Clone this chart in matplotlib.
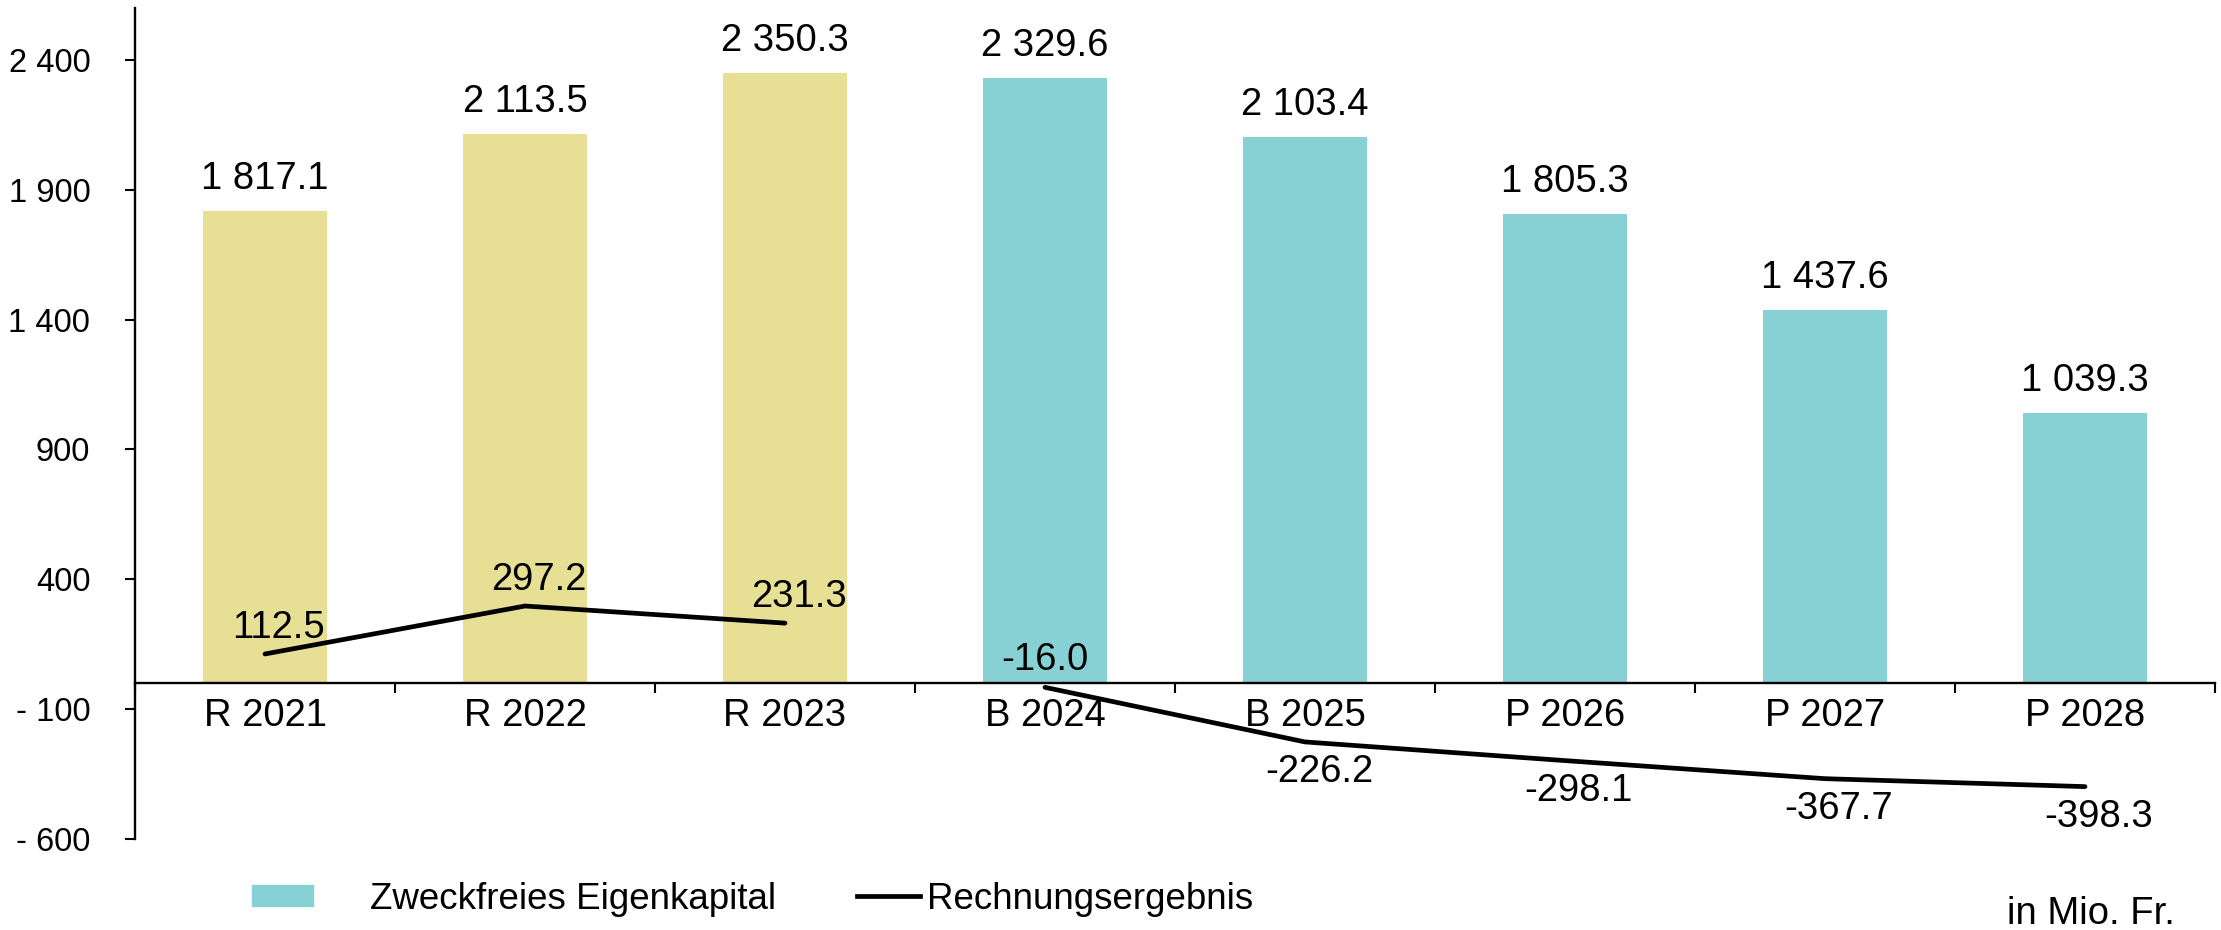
import matplotlib
matplotlib.use("Agg")
import matplotlib.pyplot as plt
from matplotlib.patches import Patch
from matplotlib.lines import Line2D

plt.rcParams['font.family'] = ['Liberation Sans', 'DejaVu Sans']

# data
categories = ["R 2021", "R 2022", "R 2023", "B 2024", "B 2025", "P 2026", "P 2027", "P 2028"]
eigenkapital = [1817.1, 2113.5, 2350.3, 2329.6, 2103.4, 1805.3, 1437.6, 1039.3]
ergebnis_r = [112.5, 297.2, 231.3]
ergebnis_bp = [-16.0, -226.2, -298.1, -367.7, -398.3]
ytick_vals = [-600, -100, 400, 900, 1400, 1900, 2400]
ytick_labels = ["- 600", "- 100", "400", "900", "1 400", "1 900", "2 400"]

yellow = "#E6DF94"
teal = "#87D1D4"
fs = 27.5


def fmt(v):
    s = f"{v:,.1f}".replace(",", " ")
    return s


fig = plt.figure(figsize=(22.21, 9.30), dpi=100)
ax = fig.add_axes([135 / 2221, 1 - 839 / 930, (2215 - 135) / 2221, (839 - 8) / 930])

x = list(range(len(categories)))
colors = [yellow] * 3 + [teal] * 5
ax.bar(x, eigenkapital, width=0.48, color=colors, zorder=2)
for xi, v in zip(x, eigenkapital):
    ax.annotate(fmt(v), (xi, v), xytext=(0, 10), textcoords="offset points",
                ha="center", va="bottom", fontsize=fs)

# line in two pieces
xr = x[:3]
xb = x[3:]
ax.plot(xr, ergebnis_r, color="black", lw=3.4, solid_capstyle="round", zorder=3)
ax.plot(xb, ergebnis_bp, color="black", lw=3.4, solid_capstyle="round", zorder=3)
for xi, v in zip(xr, ergebnis_r):
    ax.annotate(f"{v:.1f}", (xi, v), xytext=(10, 19), textcoords="offset points",
                ha="center", va="center", fontsize=fs, zorder=4)
for i, (xi, v) in enumerate(zip(xb, ergebnis_bp)):
    if i == 0:
        off = (0, 20)
    else:
        off = (10, -22)
    ax.annotate(f"{v:.1f}", (xi, v), xytext=off, textcoords="offset points",
                ha="center", va="center", fontsize=fs, zorder=4)

ax.set_xlim(-0.5, len(categories) - 0.5)
ax.set_ylim(-600, 2600)

ax.spines["top"].set_visible(False)
ax.spines["right"].set_visible(False)
ax.spines["bottom"].set_position(("data", 0))
ax.spines["left"].set_linewidth(1.7)
ax.spines["bottom"].set_linewidth(1.7)

ax.set_yticks(ytick_vals)
ax.set_yticklabels(ytick_labels, fontsize=23.5)
ax.tick_params(axis="y", direction="out", length=7.2, width=1.5, pad=25)

ax.set_xticks(x)
ax.set_xticklabels(categories, fontsize=fs)
ax.set_xticks([i + 0.5 for i in range(-1, len(categories))], minor=True)
ax.tick_params(axis="x", which="major", length=0, pad=11)
ax.tick_params(axis="x", which="minor", direction="out", length=7.2, width=1.5)

# legend
lfs = 26.5
leg1 = fig.legend(handles=[Patch(color=teal, label="Zweckfreies Eigenkapital")],
                  loc="center left", bbox_to_anchor=(252 / 2221, 1 - 899 / 930),
                  frameon=False, fontsize=lfs, borderpad=0, borderaxespad=0,
                  handlelength=1.65, handleheight=0.5, handletextpad=1.55)
leg2 = fig.legend(handles=[Line2D([], [], color="black", lw=3.4, label="Rechnungsergebnis")],
                  loc="center left", bbox_to_anchor=(857 / 2221, 1 - 899 / 930),
                  frameon=False, fontsize=lfs, borderpad=0, borderaxespad=0,
                  handlelength=1.7, handletextpad=0.2)

fig.text(2175 / 2221, 1 - 914 / 930, "in Mio. Fr.", ha="right", va="center", fontsize=fs)

fig.savefig("out.png", dpi=100)
